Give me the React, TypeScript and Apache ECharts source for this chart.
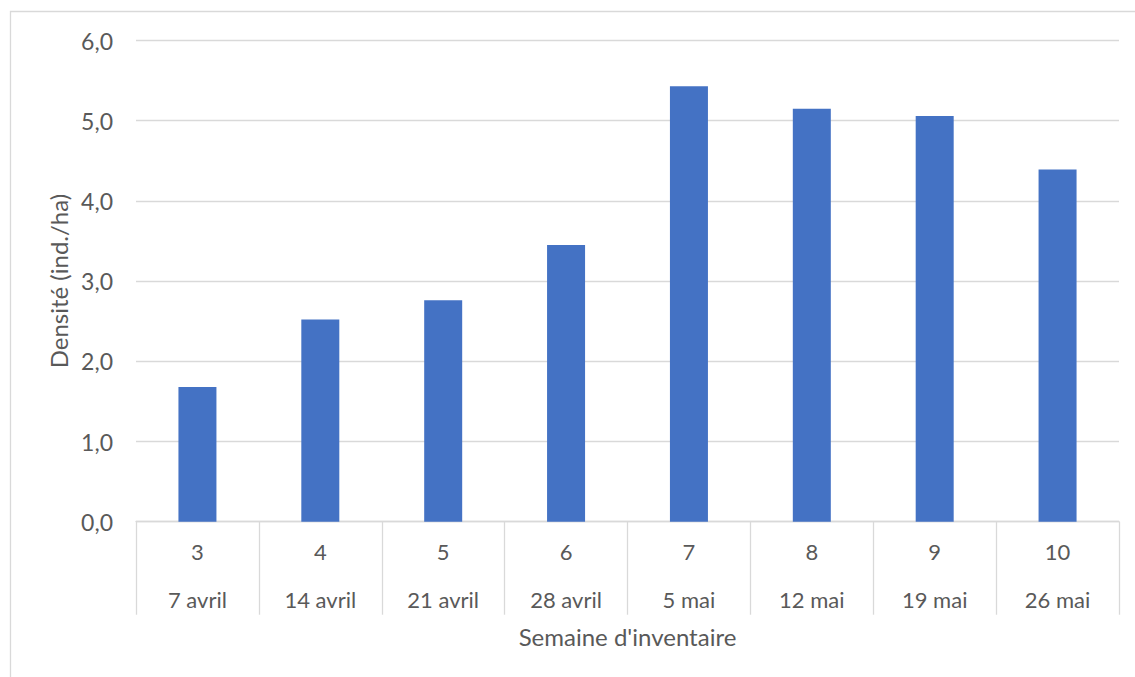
import React, { useEffect, useRef } from "react";
import * as echarts from "echarts";

const weeks = ["3", "4", "5", "6", "7", "8", "9", "10"];
const dates = ["7 avril", "14 avril", "21 avril", "28 avril", "5 mai", "12 mai", "19 mai", "26 mai"];
const densities = [1.68, 2.52, 2.76, 3.45, 5.43, 5.15, 5.06, 4.39];
const yTicks = { min: 0, max: 6, interval: 1 };

const FONT = "Lato";
const TEXT = "#595959";
const GRID = "#d9d9d9";

export default function App() {
  const ref = useRef<HTMLDivElement>(null);
  useEffect(() => {
    if (!ref.current) return;
    const chart = echarts.init(ref.current, undefined, { renderer: "svg" });
    chart.setOption({
      animation: false,
      backgroundColor: "#ffffff",
      textStyle: { fontFamily: FONT },
      graphic: [
        {
          type: "rect",
          shape: { x: 10.5, y: 11.5, width: 1200, height: 800 },
          style: { fill: "none", stroke: GRID, lineWidth: 1.3 },
          silent: true,
        },
      ],
      grid: { left: 136, right: 16, top: 40.5, bottom: 155.3 },
      xAxis: {
        type: "category",
        data: weeks.map((w, i) => w + "|" + dates[i]),
        boundaryGap: true,
        name: "Semaine d'inventaire",
        nameLocation: "middle",
        nameGap: 103,
        nameTextStyle: { fontFamily: FONT, fontSize: 24, color: TEXT },
        axisLine: { lineStyle: { color: GRID, width: 1.3 } },
        axisTick: { show: true, length: 93, interval: 0, lineStyle: { color: GRID, width: 1.3 } },
        axisLabel: {
          interval: 0,
          margin: 6,
          formatter: (v: string) => {
            const [w, d] = v.split("|");
            return "{w|" + w + "}\n{d|" + d + "}";
          },
          rich: {
            w: { fontFamily: FONT, fontSize: 22, color: TEXT, lineHeight: 48 },
            d: { fontFamily: FONT, fontSize: 22, color: TEXT, lineHeight: 48 },
          },
        },
      },
      yAxis: {
        type: "value",
        min: yTicks.min,
        max: yTicks.max,
        interval: yTicks.interval,
        name: "Densité (ind./ha)",
        nameLocation: "middle",
        nameGap: 62,
        nameTextStyle: { fontFamily: FONT, fontSize: 24, color: TEXT },
        axisLine: { show: false },
        axisTick: { show: false },
        axisLabel: {
          margin: 23,
          fontFamily: FONT,
          fontSize: 23,
          color: TEXT,
          formatter: (v: number) => v.toFixed(1).replace(".", ","),
        },
        splitLine: { lineStyle: { color: GRID, width: 1.3 } },
      },
      series: [
        {
          type: "bar",
          data: densities,
          barWidth: 38,
          itemStyle: { color: "#4472C4" },
        },
      ],
    });
    return () => chart.dispose();
  }, []);
  return (
    <div
      ref={ref}
      style={{ position: "absolute", left: 0, top: 0, width: 1135, height: 677 }}
    />
  );
}
